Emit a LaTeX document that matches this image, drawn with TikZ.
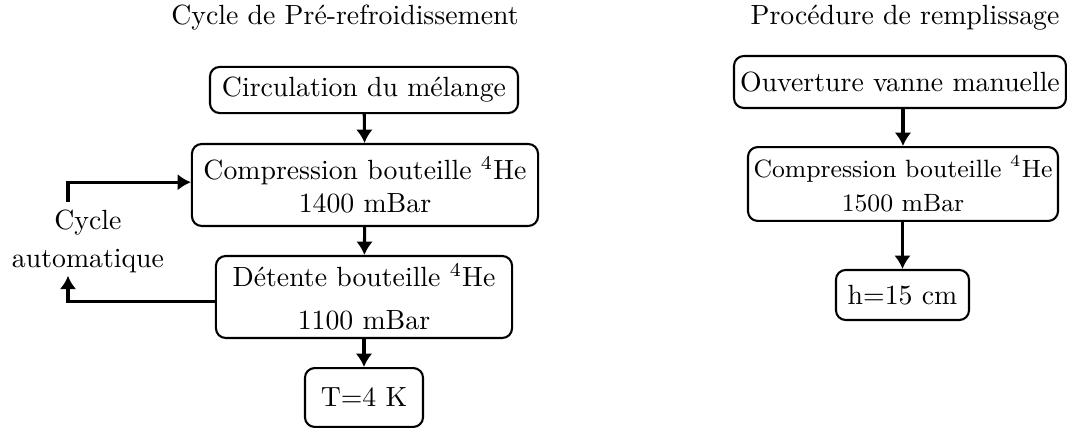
\documentclass[tikz,border=0pt]{standalone}
\usetikzlibrary{arrows.meta}
\begin{document}
\begin{tikzpicture}[x=0.36pt,y=-0.36pt,
  box/.style={draw, rounded corners=3.5pt, line width=0.75pt, align=center, inner sep=0pt},
  arr/.style={line width=1.1pt, -{Latex[length=4.8pt,width=6pt]}},
  ttl/.style={anchor=base, inner sep=0pt}]
\useasboundingbox (0,0) rectangle (1067,429);
% titles
\node[ttl] (t1) at (345,25) {Cycle de Pré-refroidissement};
\node[ttl] (t2) at (905,25) {Procédure de remplissage};
% left column
\node[box, minimum width=110.9pt, minimum height=16.6pt] (circ) at (364,90) {Circulation du mélange};
\node[box, minimum width=124.6pt, minimum height=29.5pt] (comp) at (365,185) {Compression bouteille $^4$He\\1400 mBar};
\node[box, minimum width=106.6pt, minimum height=29.5pt] (det) at (364,297) {Détente bouteille $^4$He\\[3.5pt]1100 mBar};
\node[box, minimum width=42.5pt, minimum height=21.2pt] (tk) at (364,397.5) {T=4 K};
\node[align=center, inner sep=1pt] (lab) at (88,241) {Cycle\\[1.7pt]automatique};
\coordinate (lx) at (68,0);
% right column
\node[box, minimum width=119.5pt, minimum height=18.7pt] (ouv) at (900,82) {Ouverture vanne manuelle};
\node[box, minimum width=111.6pt, minimum height=26.6pt, font=\small] (comp2) at (903,184) {Compression bouteille $^4$He\\[1.5pt]1500 mBar};
\node[box, minimum width=47.9pt, minimum height=18pt] (h) at (902.5,295) {h=15 cm};
% connectors
\draw[arr] (circ) -- (comp);
\draw[arr] (comp) -- (det);
\draw[arr] (det) -- (tk);
\draw[arr] ([yshift=1.5pt]lab.north -| lx) |- ([yshift=1pt]comp.west);
\draw[arr] ([yshift=-1.5pt]det.west) -| (lab.south -| lx);
\draw[arr] (ouv.south -| comp2.north) -- (comp2);
\draw[arr] (comp2.south -| h.north) -- (h);
\end{tikzpicture}
\end{document}
